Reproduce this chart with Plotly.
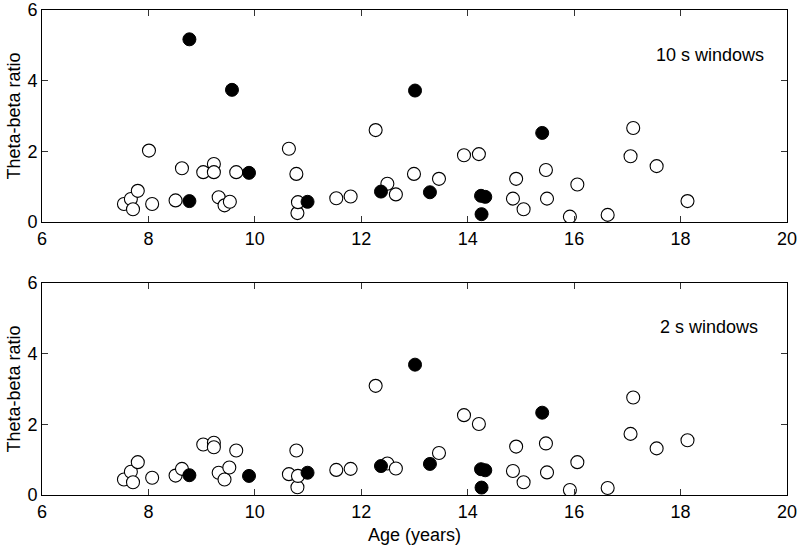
import plotly.graph_objects as go
from plotly.subplots import make_subplots

# 10 s windows (top panel)
age_open_10 = [7.54, 7.67, 7.71, 7.80, 8.01, 8.07, 8.51, 8.63, 9.03, 9.23, 9.23, 9.32,
               9.43, 9.53, 9.65, 10.64, 10.78, 10.80, 10.81, 11.53, 11.80, 12.27, 12.49,
               12.65, 12.99, 13.46, 13.93, 14.21, 14.85, 14.91, 15.05, 15.47, 15.49,
               15.92, 16.06, 16.63, 17.06, 17.11, 17.55, 18.13]
ratio_open_10 = [0.51, 0.65, 0.36, 0.88, 2.02, 0.51, 0.61, 1.52, 1.41, 1.64, 1.41, 0.70,
                 0.47, 0.57, 1.41, 2.07, 1.36, 0.25, 0.56, 0.67, 0.72, 2.60, 1.08,
                 0.78, 1.36, 1.22, 1.89, 1.92, 0.66, 1.22, 0.36, 1.47, 0.66,
                 0.15, 1.06, 0.20, 1.86, 2.66, 1.58, 0.59]
age_fill_10 = [8.77, 8.77, 9.57, 9.89, 10.99, 12.37, 13.01, 13.29, 14.25, 14.33, 14.26, 15.40]
ratio_fill_10 = [5.17, 0.59, 3.74, 1.39, 0.57, 0.86, 3.72, 0.84, 0.74, 0.71, 0.22, 2.52]

# 2 s windows (bottom panel)
age_open_2 = [7.54, 7.67, 7.71, 7.80, 8.07, 8.51, 8.63, 9.03, 9.23, 9.23, 9.32, 9.43,
              9.52, 9.65, 10.64, 10.78, 10.80, 10.81, 11.53, 11.80, 12.27, 12.49, 12.65,
              13.46, 13.93, 14.21, 14.85, 14.91, 15.05, 15.47, 15.49, 15.92, 16.06,
              16.63, 17.06, 17.11, 17.55, 18.13]
ratio_open_2 = [0.44, 0.66, 0.36, 0.93, 0.49, 0.55, 0.74, 1.43, 1.48, 1.35, 0.63, 0.44,
                0.78, 1.26, 0.59, 1.26, 0.22, 0.54, 0.71, 0.74, 3.09, 0.89, 0.75,
                1.19, 2.26, 2.01, 0.68, 1.37, 0.36, 1.46, 0.64, 0.14, 0.93,
                0.20, 1.73, 2.76, 1.32, 1.55]
age_fill_2 = [8.77, 9.89, 10.99, 12.37, 13.01, 13.29, 14.25, 14.33, 14.26, 15.40]
ratio_fill_2 = [0.56, 0.54, 0.63, 0.82, 3.69, 0.88, 0.73, 0.70, 0.21, 2.33]

x_ticks = [6, 8, 10, 12, 14, 16, 18, 20]
y_ticks = [0, 2, 4, 6]

FONT = "Liberation Sans, Arial, sans-serif"
FS = 18

fig = make_subplots(rows=2, cols=1, vertical_spacing=0.126)

panels = [
    (1, age_open_10, ratio_open_10, age_fill_10, ratio_fill_10),
    (2, age_open_2, ratio_open_2, age_fill_2, ratio_fill_2),
]
for row, ax_o, ry_o, ax_f, ry_f in panels:
    fig.add_trace(go.Scatter(
        x=ax_o, y=ry_o, mode="markers",
        marker=dict(size=13, color="white", line=dict(color="black", width=1.1)),
        showlegend=False,
    ), row=row, col=1)
    fig.add_trace(go.Scatter(
        x=ax_f, y=ry_f, mode="markers",
        marker=dict(size=13, color="black", line=dict(color="black", width=1)),
        showlegend=False,
    ), row=row, col=1)

fig.update_xaxes(
    range=[6, 20], tickvals=x_ticks, ticks="inside", ticklen=6, tickcolor="#333",
    showline=True, linecolor="black", linewidth=1, mirror="ticks", automargin=False,
    showgrid=False, zeroline=False, tickfont=dict(size=FS, color="black"),
)
fig.update_yaxes(
    range=[0, 6], tickvals=y_ticks, ticks="inside", ticklen=6, tickcolor="#333",
    showline=True, linecolor="black", linewidth=1, mirror="ticks", automargin=False,
    showgrid=False, zeroline=False, tickfont=dict(size=FS, color="black"),
    title=dict(text="Theta-beta ratio", font=dict(size=FS, color="black"), standoff=2),
)
fig.update_xaxes(title=dict(text="Age (years)", font=dict(size=FS, color="black"), standoff=7),
                 row=2, col=1)
fig.update_layout(
    yaxis=dict(domain=[0.563, 1]),
    yaxis2=dict(domain=[0, 0.437]),
)

fig.add_annotation(x=19.6, y=4.73, xref="x", yref="y", text="10 s windows",
                   showarrow=False, xanchor="right", font=dict(size=FS, color="black"))
fig.add_annotation(x=19.5, y=4.75, xref="x2", yref="y2", text="2 s windows",
                   showarrow=False, xanchor="right", font=dict(size=FS, color="black"))

fig.update_layout(
    width=800, height=550,
    margin=dict(l=42, r=13, t=10, b=55),
    plot_bgcolor="white", paper_bgcolor="white",
    font=dict(family=FONT, color="black"),
)

# the page's default body margin would shift the chart by 8px
fig.write_html("out.html", config={"displayModeBar": False},
               post_script="document.body.style.margin='0';")
